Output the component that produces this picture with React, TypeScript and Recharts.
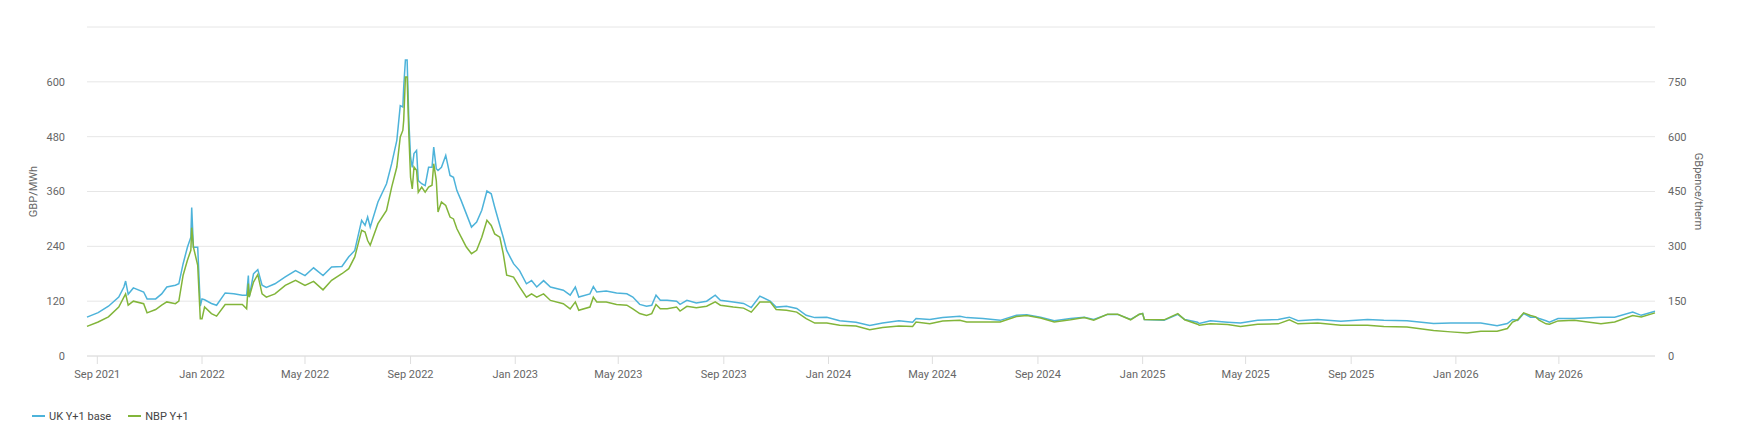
import React from "react";
import {
  CartesianGrid,
  Line,
  LineChart,
  XAxis,
  YAxis,
} from "recharts";

// daily closes at roughly weekly resolution
const dates = [
  "2021-08-20", "2021-09-02", "2021-09-14", "2021-09-26", "2021-10-02", "2021-10-04",
  "2021-10-07", "2021-10-13", "2021-10-25", "2021-10-29", "2021-11-08", "2021-11-15",
  "2021-11-21", "2021-12-01", "2021-12-05", "2021-12-10", "2021-12-15", "2021-12-19",
  "2021-12-20", "2021-12-22", "2021-12-27", "2021-12-30", "2022-01-01", "2022-01-04",
  "2022-01-12", "2022-01-18", "2022-01-28", "2022-02-07", "2022-02-17", "2022-02-22",
  "2022-02-24", "2022-02-25", "2022-03-02", "2022-03-07", "2022-03-12", "2022-03-17",
  "2022-03-27", "2022-04-08", "2022-04-20", "2022-05-01", "2022-05-11", "2022-05-22",
  "2022-06-01", "2022-06-13", "2022-06-21", "2022-06-28", "2022-07-06", "2022-07-10",
  "2022-07-13", "2022-07-16", "2022-07-25", "2022-08-04", "2022-08-10", "2022-08-16",
  "2022-08-20", "2022-08-23", "2022-08-24", "2022-08-26", "2022-08-28", "2022-08-30",
  "2022-09-01", "2022-09-03", "2022-09-05", "2022-09-08", "2022-09-10", "2022-09-14",
  "2022-09-18", "2022-09-22", "2022-09-26", "2022-09-28", "2022-10-01", "2022-10-03",
  "2022-10-07", "2022-10-12", "2022-10-17", "2022-10-21", "2022-10-25", "2022-10-30",
  "2022-11-05", "2022-11-11", "2022-11-17", "2022-11-23", "2022-11-29", "2022-12-04",
  "2022-12-08", "2022-12-14", "2022-12-18", "2022-12-22", "2022-12-30", "2023-01-06",
  "2023-01-14", "2023-01-20", "2023-01-26", "2023-02-03", "2023-02-11", "2023-02-26",
  "2023-03-06", "2023-03-12", "2023-03-16", "2023-03-29", "2023-04-02", "2023-04-06",
  "2023-04-17", "2023-04-29", "2023-05-11", "2023-05-18", "2023-05-26", "2023-06-03",
  "2023-06-09", "2023-06-14", "2023-06-19", "2023-06-27", "2023-07-08", "2023-07-12",
  "2023-07-20", "2023-07-31", "2023-08-12", "2023-08-22", "2023-08-28", "2023-09-12",
  "2023-09-24", "2023-10-03", "2023-10-13", "2023-10-25", "2023-11-01", "2023-11-13",
  "2023-11-25", "2023-12-06", "2023-12-16", "2023-12-30", "2024-01-14", "2024-02-02",
  "2024-02-18", "2024-03-04", "2024-03-23", "2024-04-08", "2024-04-12", "2024-04-28",
  "2024-05-13", "2024-06-02", "2024-06-10", "2024-06-29", "2024-07-19", "2024-08-07",
  "2024-08-19", "2024-09-04", "2024-09-20", "2024-10-09", "2024-10-25", "2024-11-05",
  "2024-11-21", "2024-12-03", "2024-12-18", "2024-12-28", "2025-01-01", "2025-01-03",
  "2025-01-26", "2025-02-11", "2025-02-19", "2025-03-06", "2025-03-08", "2025-03-21",
  "2025-04-10", "2025-04-25", "2025-05-15", "2025-06-08", "2025-06-21", "2025-07-01",
  "2025-07-24", "2025-08-20", "2025-09-20", "2025-10-09", "2025-11-05", "2025-12-06",
  "2025-12-26", "2026-01-14", "2026-01-30", "2026-02-18", "2026-03-02", "2026-03-08",
  "2026-03-14", "2026-03-21", "2026-03-29", "2026-04-04", "2026-04-08", "2026-04-16",
  "2026-04-20", "2026-04-30", "2026-05-19", "2026-06-19", "2026-07-05", "2026-07-26",
  "2026-08-05", "2026-08-21",
];

// UK Y+1 base, GBP/MWh (left axis)
const ukBase = [
  85, 95, 109, 129, 151, 164, 135, 149, 140, 125, 125, 136,
  151, 155, 158, 202, 238, 260, 325, 238, 238, 109, 125, 123,
  115, 111, 138, 136, 133, 133, 176, 129, 180, 189, 155, 150,
  158, 173, 187, 176, 193, 176, 195, 196, 217, 231, 297, 286,
  304, 282, 337, 377, 421, 472, 548, 545, 588, 648, 648, 515,
  435, 413, 443, 450, 384, 377, 373, 413, 413, 457, 410, 406,
  413, 439, 395, 391, 362, 340, 311, 282, 293, 319, 361, 355,
  326, 286, 260, 231, 202, 187, 158, 165, 151, 165, 151, 144,
  133, 151, 129, 136, 152, 140, 142, 138, 136, 129, 113, 109,
  111, 133, 122, 122, 120, 113, 122, 116, 120, 133, 122, 118,
  115, 106, 131, 120, 107, 109, 104, 89, 84, 85, 77, 74,
  67, 72, 77, 74, 82, 80, 84, 87, 84, 82, 78, 89,
  90, 85, 77, 82, 85, 80, 91, 91, 80, 91, 93, 80,
  78, 91, 80, 74, 71, 77, 74, 72, 78, 80, 85, 77,
  80, 76, 80, 78, 77, 71, 72, 72, 72, 66, 71, 80,
  78, 93, 85, 85, 82, 77, 74, 82, 82, 85, 85, 96,
  89, 98,
];

// NBP Y+1, GBpence/therm (right axis)
const nbp = [
  81, 93, 107, 134, 161, 170, 139, 150, 143, 118, 127, 139,
  148, 143, 150, 221, 262, 289, 351, 298, 248, 102, 102, 134,
  116, 109, 141, 141, 141, 129, 198, 161, 202, 223, 170, 161,
  170, 193, 207, 193, 204, 181, 207, 225, 239, 271, 344, 339,
  316, 303, 362, 398, 462, 517, 599, 617, 644, 763, 763, 608,
  489, 457, 517, 508, 448, 462, 448, 462, 467, 526, 480, 394,
  421, 412, 380, 375, 348, 325, 298, 280, 289, 325, 371, 357,
  334, 325, 280, 221, 216, 189, 161, 170, 161, 170, 152, 143,
  129, 148, 125, 134, 161, 148, 148, 141, 139, 129, 116, 111,
  116, 141, 129, 129, 134, 123, 136, 132, 136, 148, 139, 134,
  131, 120, 148, 148, 127, 125, 120, 102, 90, 90, 84, 82,
  72, 78, 82, 81, 93, 88, 96, 98, 93, 93, 93, 108,
  111, 104, 93, 99, 105, 98, 114, 114, 99, 114, 116, 100,
  99, 116, 99, 87, 84, 88, 86, 81, 87, 88, 99, 88,
  90, 84, 84, 81, 79, 70, 66, 63, 68, 68, 75, 93,
  99, 118, 111, 107, 98, 88, 87, 96, 98, 88, 93, 111,
  107, 118,
];

const leftTicks = [0, 120, 240, 360, 480, 600, 720];
const rightTicks = [0, 150, 300, 450, 600, 750, 900];
const xTickDates = [
  "2021-09-01", "2022-01-01", "2022-05-01", "2022-09-01", "2023-01-01", "2023-05-01",
  "2023-09-01", "2024-01-01", "2024-05-01", "2024-09-01", "2025-01-01", "2025-05-01",
  "2025-09-01", "2026-01-01", "2026-05-01",
];
const monthNames = ["Jan", "Feb", "Mar", "Apr", "May", "Jun", "Jul", "Aug", "Sep", "Oct", "Nov", "Dec"];

const data = dates.map((d, i) => ({ t: Date.parse(d), uk: ukBase[i], nbp: nbp[i] }));

const BLUE = "#4db3da";
const GREEN = "#82b53a";
const FONT = "Roboto, 'Noto Sans', sans-serif";
const tickStyle = { fontSize: 11, fill: "#666666", fontFamily: FONT };

const fmtDate = (v: number) => {
  const d = new Date(v);
  return monthNames[d.getUTCMonth()] + " " + d.getUTCFullYear();
};

const AxisTitle = ({ viewBox, value, dx, rot }: any) => {
  const cx = viewBox.x + dx;
  const cy = viewBox.y + viewBox.height / 2;
  return (
    <text
      x={cx}
      y={cy}
      transform={`rotate(${rot}, ${cx}, ${cy})`}
      textAnchor="middle"
      dominantBaseline="central"
      fontSize={11}
      fill="#666666"
      fontFamily={FONT}
    >
      {value}
    </text>
  );
};

const LegendItem = ({ color, label }: { color: string; label: string }) => (
  <div style={{ display: "flex", alignItems: "center", marginRight: 17 }}>
    <div style={{ width: 13, height: 2, background: color, marginRight: 4 }} />
    <span style={{ fontSize: 11, color: "#444444", fontFamily: FONT }}>{label}</span>
  </div>
);

export default function App() {
  return (
    <div style={{ position: "relative", width: 1722, height: 420 }}>
      <LineChart
        width={1722}
        height={420}
        data={data}
        margin={{ top: 19, right: 0, left: 0, bottom: 42 }}
      >
        <CartesianGrid yAxisId="left" vertical={false} stroke="#e6e6e6" />
        <XAxis
          dataKey="t"
          type="number"
          scale="time"
          domain={[Date.parse("2021-08-20"), Date.parse("2026-08-21")]}
          ticks={xTickDates.map((d) => Date.parse(d))}
          tickFormatter={fmtDate}
          tick={tickStyle}
          height={30}
          stroke="#dedede"
          tickSize={8}
          tickMargin={6}
        />
        <YAxis
          yAxisId="left"
          orientation="left"
          width={79}
          domain={[0, 720]}
          ticks={leftTicks}
          tickFormatter={(v: number) => (v === 720 ? "" : String(v))}
          tick={tickStyle}
          axisLine={false}
          tickLine={false}
          tickSize={0}
          tickMargin={22}
          label={<AxisTitle value="GBP/MWh" dx={25} rot={-90} />}
        />
        <YAxis
          yAxisId="right"
          orientation="right"
          width={75}
          domain={[0, 900]}
          ticks={rightTicks}
          tickFormatter={(v: number) => (v === 900 ? "" : String(v))}
          tick={{ ...tickStyle, textAnchor: "start" }}
          axisLine={false}
          tickLine={false}
          tickSize={0}
          tickMargin={13}
          label={<AxisTitle value="GBpence/therm" dx={43} rot={90} />}
        />
        <Line
          yAxisId="left"
          type="linear"
          dataKey="uk"
          name="UK Y+1 base"
          stroke={BLUE}
          strokeWidth={1.5}
          dot={false}
          isAnimationActive={false}
        />
        <Line
          yAxisId="right"
          type="linear"
          dataKey="nbp"
          name="NBP Y+1"
          stroke={GREEN}
          strokeWidth={1.5}
          dot={false}
          isAnimationActive={false}
        />
      </LineChart>
      <div
        style={{
          position: "absolute",
          left: 24,
          top: 400,
          height: 16,
          display: "flex",
          alignItems: "center",
        }}
      >
        <LegendItem color={BLUE} label="UK Y+1 base" />
        <LegendItem color={GREEN} label="NBP Y+1" />
      </div>
    </div>
  );
}
